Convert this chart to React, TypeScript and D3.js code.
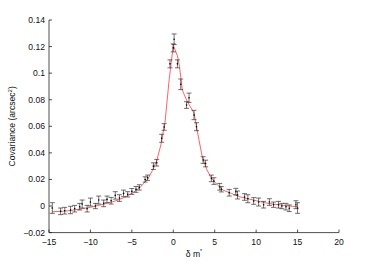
import React from "react";
import * as d3 from "d3";

const obsX = [-14.6, -13.6, -13.1, -12.4, -11.9, -11.3, -11.0, -10.4, -10.0, -9.4, -9.0, -8.4, -8.0, -7.5, -7.0, -6.5, -6.0, -5.5, -5.0, -4.5, -4.1, -3.4, -3.1, -2.4, -2.0, -1.4, -1.1, -0.4, 0.0, 0.1, 0.5, 0.9, 1.6, 1.9, 2.5, 2.8, 3.6, 3.9, 4.6, 4.9, 5.6, 5.8, 6.75, 7.55, 7.75, 8.6, 9.0, 9.7, 10.3, 10.9, 11.6, 12.1, 12.7, 13.1, 13.6, 14.0, 14.8, 15.0];
const obsY = [-0.0015, -0.004, -0.0035, -0.003, -0.002, -0.0005, 0.0015, -0.002, 0.003, 0.0, 0.0045, 0.002, 0.005, 0.004, 0.008, 0.006, 0.0095, 0.0088, 0.011, 0.0125, 0.014, 0.02, 0.0213, 0.03, 0.0326, 0.051, 0.0595, 0.107, 0.119, 0.1255, 0.107, 0.0916, 0.076, 0.0815, 0.0685, 0.0597, 0.0346, 0.032, 0.0208, 0.0188, 0.0145, 0.0126, 0.01, 0.0108, 0.0083, 0.0068, 0.0055, 0.0038, 0.003, 0.001, 0.003, 0.001, 0.001, 0.0, -0.0005, -0.0017, 0.001, -0.0015];
const obsErr = [0.004, 0.0025, 0.0025, 0.0028, 0.0025, 0.0025, 0.003, 0.0025, 0.003, 0.002, 0.003, 0.0025, 0.0025, 0.0025, 0.0028, 0.0025, 0.0025, 0.002, 0.0022, 0.0022, 0.002, 0.002, 0.002, 0.0025, 0.0025, 0.003, 0.0025, 0.003, 0.003, 0.004, 0.003, 0.004, 0.0025, 0.0035, 0.0035, 0.003, 0.0025, 0.0025, 0.0025, 0.0025, 0.0025, 0.002, 0.0025, 0.0025, 0.003, 0.0025, 0.003, 0.0025, 0.003, 0.0025, 0.0025, 0.002, 0.0025, 0.002, 0.0025, 0.0025, 0.003, 0.004];

const modelX = [-14.6, -13, -12, -11, -10, -9, -8, -7, -6, -5, -4, -3, -2.5, -2, -1.5, -1, -0.5, 0, 0.5, 0.75, 1.1, 1.7, 2.5, 3.1, 3.5, 4, 4.5, 5, 5.5, 6, 7, 8, 9, 10, 11, 12, 13, 14, 15];
const modelY = [-0.0043, -0.0038, -0.003, -0.002, -0.001, 0.0005, 0.002, 0.0038, 0.0062, 0.0095, 0.014, 0.021, 0.027, 0.034, 0.046, 0.063, 0.095, 0.121, 0.113, 0.105, 0.087, 0.0785, 0.07, 0.0497, 0.037, 0.028, 0.022, 0.018, 0.015, 0.012, 0.0095, 0.007, 0.0055, 0.004, 0.0025, 0.0015, 0.0008, 0.0, -0.0005];

const xTicks = [-15, -10, -5, 0, 5, 10, 15, 20];
const yTicks = [-0.02, 0, 0.02, 0.04, 0.06, 0.08, 0.1, 0.12, 0.14];

const W = 374;
const H = 262;
const FONT = "'Liberation Sans', Arial, Helvetica, sans-serif";

export default function App() {
  const x = d3.scaleLinear().domain([-15, 20]).range([49, 339]);
  const y = d3.scaleLinear().domain([-0.02, 0.14]).range([232.6, 20]);
  const line = d3
    .line<number>()
    .x((_, i) => x(modelX[i]))
    .y((d) => y(d));
  const fmtY = (v: number) => {
    const s = d3.format("")(Math.round(v * 1000) / 1000);
    return s.replace("-", "\u2212");
  };
  const fmtX = (v: number) => String(v).replace("-", "\u2212");
  const x0 = x(-15);
  const y0 = y(-0.02);
  const tick = 3;
  const cap = 2.5;
  return (
    <svg
      width={W}
      height={H}
      style={{ position: "absolute", left: 0, top: 0, background: "#fff" }}
      fontFamily={FONT}
    >
      <rect x={0} y={0} width={W} height={H} fill="#fff" />
      <line x1={x0} x2={x0} y1={y(0.14)} y2={y0} stroke="#222" strokeWidth={0.8} />
      <line x1={x0} x2={x(20)} y1={y0} y2={y0} stroke="#222" strokeWidth={0.8} />
      {yTicks.map((t) => (
        <g key={"y" + t}>
          <line x1={x0} x2={x0 + tick} y1={y(t)} y2={y(t)} stroke="#222" strokeWidth={0.8} />
          <text x={x0 - 4} y={y(t)} dy="0.35em" textAnchor="end" fontSize={8.6} fill="#111">
            {fmtY(t)}
          </text>
        </g>
      ))}
      {xTicks.map((t) => (
        <g key={"x" + t}>
          <line x1={x(t)} x2={x(t)} y1={y0} y2={y0 - tick} stroke="#222" strokeWidth={0.8} />
          <text x={x(t)} y={y0 + 12} textAnchor="middle" fontSize={8.6} fill="#111">
            {fmtX(t)}
          </text>
        </g>
      ))}
      <path d={line(modelY) || ""} fill="none" stroke="#ff3b3b" strokeWidth={0.8} />
      {obsY.map((v, i) => {
        const cx = x(obsX[i]);
        const top = y(v + obsErr[i]);
        const bot = y(v - obsErr[i]);
        return (
          <g key={"e" + i} stroke="#333" strokeWidth={0.7}>
            <line x1={cx} x2={cx} y1={top} y2={bot} />
            <line x1={cx - cap} x2={cx + cap} y1={top} y2={top} />
            <line x1={cx - cap} x2={cx + cap} y1={bot} y2={bot} />
            <circle cx={cx} cy={y(v)} r={0.8} fill="#000" stroke="none" />
          </g>
        );
      })}
      <text x={x(2.5)} y={257} textAnchor="middle" fontSize={8.6} fill="#111">
        δ m<tspan dy={-4} fontSize={5.5}>*</tspan>
      </text>
      <text
        transform={`translate(15, ${y(0.06)}) rotate(-90)`}
        textAnchor="middle"
        fontSize={8.6}
        fill="#111"
      >
        Covariance (arcsec<tspan dy={-3.5} fontSize={6}>2</tspan>
        <tspan dy={3.5}>)</tspan>
      </text>
    </svg>
  );
}
